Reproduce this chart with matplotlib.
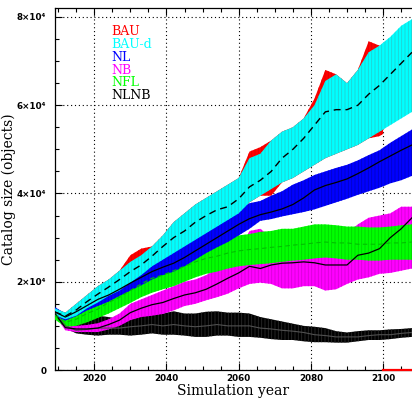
import matplotlib
matplotlib.use("Agg")
import matplotlib.pyplot as plt
from matplotlib.ticker import MultipleLocator, FixedLocator, FixedFormatter
import numpy as np

# catalog size in thousands of objects
years = [2009, 2012, 2015, 2018, 2021, 2024, 2027, 2030, 2033, 2036, 2039, 2042,
         2045, 2048, 2051, 2054, 2057, 2060, 2063, 2066, 2069, 2072, 2075, 2078,
         2081, 2084, 2087, 2090, 2093, 2096, 2099, 2102, 2105, 2108]

# BAU runs stop at 2100, catalog reported as zero afterwards
bau_years = [2009, 2012, 2015, 2018, 2021, 2024, 2027, 2030, 2033, 2036, 2039, 2042,
             2045, 2048, 2051, 2054, 2057, 2060, 2063, 2066, 2069, 2072, 2075, 2078,
             2081, 2084, 2087, 2090, 2093, 2096, 2099, 2100]
bau_lo = [12.5, 11.5, 12.3, 14.0, 15.3, 16.8, 18.0, 19.8, 21.5, 23.5, 25.0, 26.5,
          28.0, 29.5, 31.0, 32.5, 34.0, 35.5, 38.0, 39.5, 39.5, 42.5, 43.5, 45.0,
          46.5, 48.0, 49.0, 50.0, 51.0, 52.5, 53.0, 53.5]
bau_hi = [14.0, 13.0, 15.0, 17.0, 19.0, 20.5, 22.5, 26.0, 27.5, 28.0, 30.5, 33.5,
          35.5, 37.5, 39.0, 40.5, 42.0, 43.5, 49.5, 50.5, 52.0, 54.0, 55.0, 57.0,
          61.5, 68.0, 67.0, 65.0, 68.0, 74.5, 73.5, 73.8]
bau_after_years = [2100, 2108]
bau_after = [0, 0]

baud_lo = [12.5, 11.5, 12.3, 14.0, 15.3, 16.8, 18.0, 19.8, 21.5, 23.5, 25.0, 26.5,
           28.0, 29.5, 31.0, 32.5, 34.0, 35.5, 38.0, 39.5, 41.0, 42.5, 43.5, 45.0,
           46.5, 48.0, 49.0, 50.0, 51.0, 52.5, 54.0, 55.5, 57.0, 58.5]
baud_md = [13.2, 12.2, 13.6, 15.5, 17.2, 18.8, 20.5, 22.3, 23.8, 25.8, 28.0, 30.0,
           31.5, 33.5, 35.0, 36.3, 37.0, 38.8, 41.5, 43.0, 45.0, 48.0, 50.0, 52.5,
           55.5, 58.5, 59.0, 59.0, 60.0, 62.5, 64.5, 67.0, 69.5, 72.0]
baud_hi = [14.0, 13.0, 15.0, 17.0, 19.0, 20.5, 22.5, 24.5, 26.0, 28.0, 30.5, 33.5,
           35.5, 37.5, 39.0, 40.5, 42.0, 43.5, 48.0, 49.0, 52.0, 54.0, 55.0, 57.0,
           60.0, 65.5, 67.0, 65.0, 68.0, 72.0, 73.5, 75.5, 78.0, 79.5]

nl_lo = [12.3, 11.2, 12.2, 13.5, 14.5, 15.5, 16.8, 18.0, 19.2, 20.5, 21.5, 22.3,
         23.5, 25.0, 26.5, 27.8, 29.0, 30.5, 32.0, 33.8, 34.2, 34.8, 35.3, 35.8,
         36.4, 37.2, 38.0, 38.8, 39.7, 40.5, 41.3, 42.3, 43.0, 44.0]
nl_md = [13.2, 12.0, 13.2, 14.6, 16.0, 17.0, 18.3, 19.7, 21.0, 22.3, 23.3, 24.2,
         25.5, 27.0, 28.5, 30.0, 31.5, 33.0, 34.3, 35.2, 35.8, 36.5, 37.5, 39.0,
         40.8, 41.8, 42.5, 43.3, 44.5, 45.8, 47.2, 48.5, 49.8, 51.0]
nl_hi = [14.3, 12.8, 14.3, 15.8, 17.3, 18.5, 20.0, 21.5, 23.0, 24.5, 25.8, 27.0,
         28.5, 30.2, 32.0, 33.5, 35.0, 36.5, 37.8, 38.3, 39.5, 40.5, 42.0, 43.0,
         44.2, 45.0, 45.8, 46.5, 47.5, 48.7, 49.8, 51.5, 53.0, 54.5]

nb_lo = [12.5, 9.0, 8.6, 8.6, 8.6, 9.2, 10.0, 11.3, 12.0, 12.3, 12.7, 13.5,
         14.5, 15.0, 15.8, 16.5, 17.3, 18.5, 19.5, 19.8, 19.5, 18.5, 18.5, 19.0,
         19.0, 18.0, 18.3, 19.5, 20.5, 21.0, 21.8, 22.0, 22.5, 23.0]
nb_md = [12.9, 9.6, 9.3, 9.3, 9.5, 10.3, 11.3, 13.0, 14.0, 14.8, 15.3, 16.2,
         17.0, 17.5, 18.3, 19.5, 20.8, 22.0, 23.5, 23.0, 23.8, 24.2, 24.3, 24.5,
         24.3, 23.8, 23.8, 23.8, 26.0, 26.5, 27.5, 30.0, 32.0, 34.5]
nb_hi = [13.3, 10.3, 10.0, 10.2, 10.6, 11.5, 12.8, 15.0, 16.0, 17.0, 18.0, 19.0,
         20.0, 20.5, 21.5, 23.0, 24.5, 26.5, 31.5, 32.0, 30.0, 30.3, 30.0, 30.5,
         30.8, 31.0, 30.5, 31.0, 33.0, 34.5, 35.0, 35.5, 37.0, 37.0]

nfl_lo = [11.5, 9.8, 10.0, 10.8, 11.8, 12.8, 14.0, 15.2, 16.5, 17.5, 18.3, 19.0,
          20.0, 21.0, 21.8, 22.3, 23.0, 23.5, 23.8, 24.0, 24.2, 24.5, 24.8, 25.0,
          25.3, 25.5, 25.3, 25.0, 25.0, 24.8, 24.8, 25.0, 25.0, 25.0]
nfl_md = [12.5, 10.8, 11.5, 12.8, 13.8, 15.3, 16.5, 18.0, 19.5, 20.8, 21.5, 22.5,
          23.5, 24.5, 25.3, 25.8, 26.5, 27.0, 27.3, 27.5, 27.8, 28.0, 28.3, 28.5,
          28.8, 29.0, 28.8, 28.8, 28.5, 28.5, 28.5, 28.8, 28.8, 29.0]
nfl_hi = [13.5, 12.0, 13.3, 14.8, 16.0, 17.5, 19.5, 21.5, 22.8, 24.0, 25.0, 26.0,
          27.0, 28.0, 28.8, 29.5, 30.0, 30.5, 30.8, 31.3, 31.5, 32.0, 32.0, 32.5,
          33.0, 33.0, 32.8, 32.5, 32.5, 32.3, 32.3, 32.5, 32.8, 33.0]

nlnb_lo = [12.5, 9.5, 8.3, 8.0, 7.8, 8.0, 8.0, 7.8, 8.0, 8.3, 8.0, 8.0,
           7.8, 7.5, 7.5, 7.8, 7.8, 7.5, 7.5, 7.3, 7.0, 6.8, 6.8, 6.5,
           6.3, 6.3, 6.2, 6.2, 6.5, 6.8, 6.8, 7.0, 7.3, 7.5]
nlnb_md = [13.0, 10.0, 9.0, 9.2, 9.5, 9.5, 9.5, 9.8, 10.0, 10.3, 10.0, 10.3,
           10.0, 9.8, 10.0, 10.3, 10.0, 10.0, 10.0, 9.5, 9.3, 9.0, 8.8, 8.5,
           8.0, 7.8, 7.5, 7.5, 7.5, 7.8, 8.0, 8.0, 8.3, 8.5]
nlnb_hi = [13.5, 10.8, 10.3, 11.5, 12.3, 12.0, 11.5, 12.5, 12.8, 13.0, 12.8, 13.3,
           12.8, 12.8, 13.2, 13.3, 13.0, 13.0, 12.8, 12.0, 11.5, 11.0, 10.5, 10.0,
           9.8, 9.5, 8.8, 8.5, 8.8, 9.0, 9.0, 9.2, 9.3, 9.5]

labels = ["BAU", "BAU-d", "NL", "NB", "NFL", "NLNB"]
colors = ["#ff0000", "#00ffff", "#0000ff", "#ff00ff", "#00ff00", "#000000"]

plt.rcParams["hatch.linewidth"] = 0.6

fig = plt.figure(figsize=(4.12, 3.98), dpi=100)
ax = fig.add_axes([54.5 / 412, 28 / 398, 357.5 / 412, 362.5 / 398])
ax.set_axisbelow(True)


def band(x, lo, hi, face, stripe, z):
    x = np.array(x)
    lo = np.array(lo) * 1000
    hi = np.array(hi) * 1000
    ax.fill_between(x, lo, hi, facecolor=face, linewidth=0, zorder=z)
    ax.fill_between(x, lo, hi, facecolor="none", edgecolor=stripe,
                    hatch="|||||", linewidth=0, zorder=z)


# BAU first, mostly hidden under BAU-d
band(bau_years, bau_lo, bau_hi, "#ff0000", "#e00000", 2.6)
ax.plot(bau_after_years, bau_after, color="#ff0000", lw=1.6, zorder=2.65, clip_on=False)
band(years, nlnb_lo, nlnb_hi, "#000000", "#2a2a2a", 2.7)
band(years, nb_lo, nb_hi, "#ff00ff", "#d800d8", 2.75)
band(years, nfl_lo, nfl_hi, "#00ff00", "#00d400", 2.8)
band(years, nl_lo, nl_hi, "#0000ff", "#0000c8", 2.85)
band(years, baud_lo, baud_hi, "#00ffff", "#20d0d0", 2.9)

yrs = np.array(years)
ax.plot(yrs, np.array(nlnb_md) * 1000, color="#505050", lw=0.8, zorder=3)
ax.plot(yrs, np.array(nb_md) * 1000, color="black", lw=0.9, zorder=3)
ax.plot(yrs, np.array(nfl_md) * 1000, color="#00c000", lw=0.8, ls=(0, (4, 3)), zorder=3)
ax.plot(yrs, np.array(nl_md) * 1000, color="black", lw=0.9, zorder=3)
ax.plot(yrs, np.array(baud_md) * 1000, color="black", lw=1.0, ls=(0, (5, 3.5)), zorder=3)

ax.set_xlim(2009, 2108)
ax.set_ylim(0, 82150)

ax.xaxis.set_major_locator(MultipleLocator(20))
ax.xaxis.set_minor_locator(MultipleLocator(5))
ax.yaxis.set_major_locator(FixedLocator([0, 20000, 40000, 60000, 80000]))
ax.yaxis.set_major_formatter(FixedFormatter(["0", "2×10⁴", "4×10⁴", "6×10⁴", "8×10⁴"]))
ax.yaxis.set_minor_locator(MultipleLocator(5000))

ax.grid(True, which="major", color="black", linestyle=(0, (1, 2.5)), linewidth=0.8)
ax.tick_params(which="both", direction="in", top=True, right=False, width=0.8)
ax.tick_params(which="major", length=5, labelsize=6.3)
ax.tick_params(axis="x", which="major", pad=3)
ax.tick_params(axis="y", which="major", pad=6)
ax.tick_params(which="minor", length=3)
for t in ax.get_xticklabels() + ax.get_yticklabels():
    t.set_fontweight("bold")
ax.spines["right"].set_visible(False)
for s in ["left", "bottom", "top"]:
    ax.spines[s].set_linewidth(0.9)

ax.set_xlabel("Simulation year", family="DejaVu Serif", fontsize=10)
ax.xaxis.set_label_coords(0.5, -0.040)
ax.set_ylabel("Catalog size (objects)", family="DejaVu Serif", fontsize=10)
ax.yaxis.set_label_coords(-0.107, 0.5)

for i, (lab, c) in enumerate(zip(labels, colors)):
    ax.text(0.16, 0.951 - i * 0.0353, lab, transform=ax.transAxes, color=c,
            family="DejaVu Serif", fontsize=9, va="top", ha="left", zorder=5)

fig.savefig("out.png", dpi=100)
